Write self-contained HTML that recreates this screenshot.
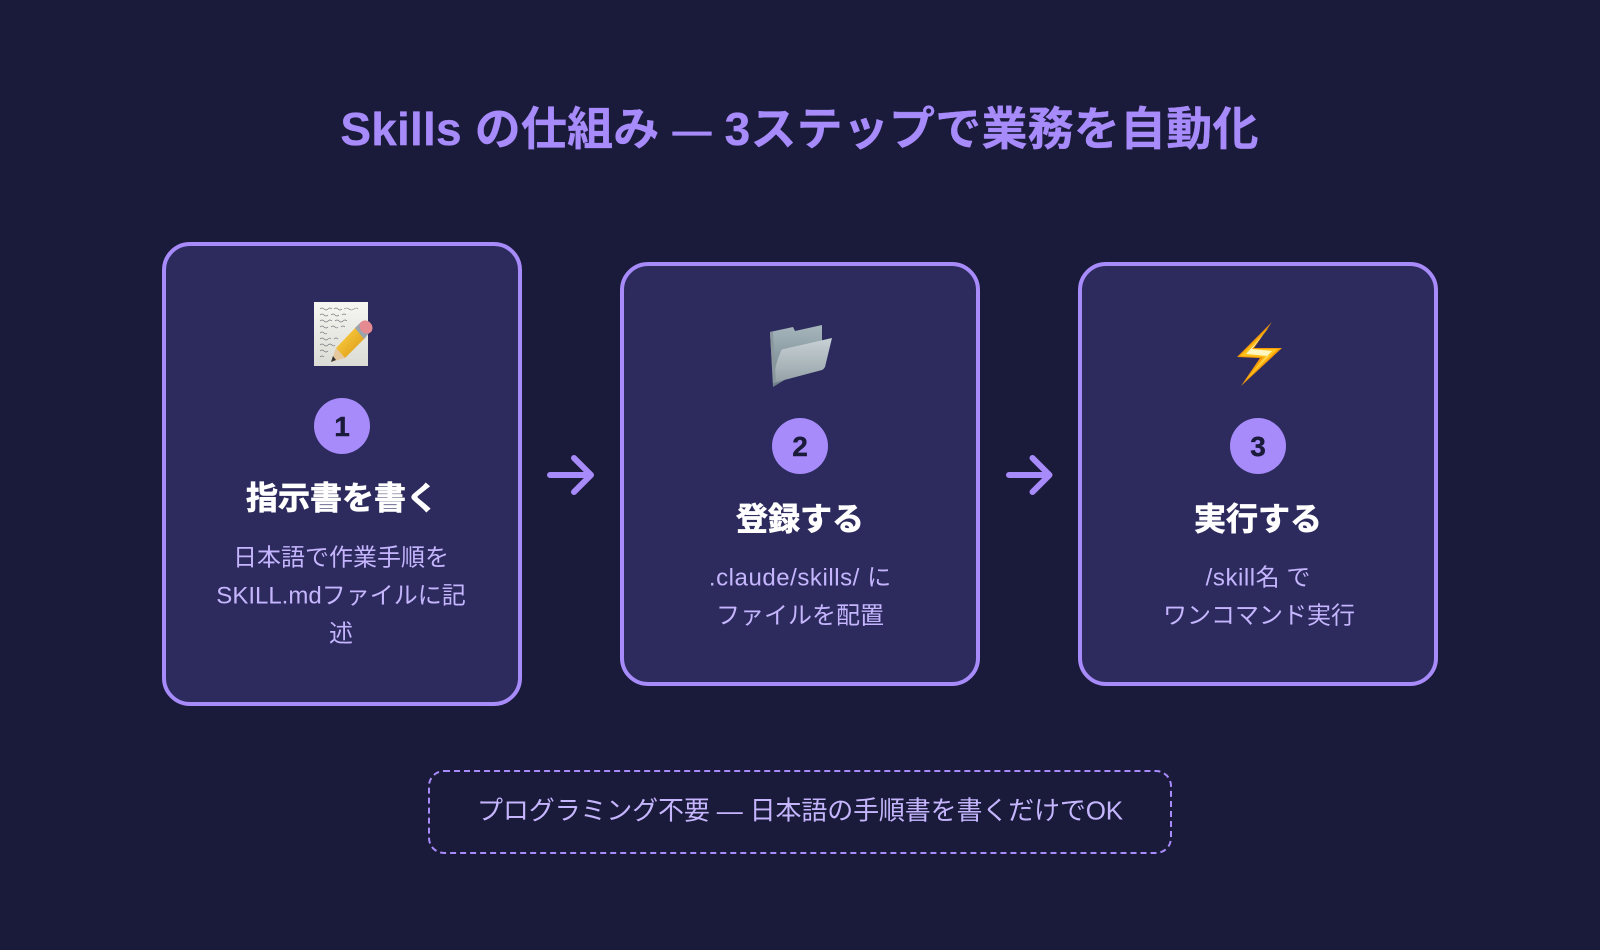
<!DOCTYPE html>
<html lang="ja"><head><meta charset="utf-8"><title>Skills</title>
<style>
*{box-sizing:border-box;margin:0;padding:0}
html,body{width:1600px;height:950px;overflow:hidden;background:#1a1a3a}
body{position:relative;font-family:"Liberation Sans","Noto Sans CJK JP",sans-serif}
.t{position:absolute;white-space:nowrap;text-align:center;transform:translate(-50%,-50%)}
.title{left:799.5px;top:126px;font-size:46px;font-weight:700;color:#a78bfa;letter-spacing:.2px;-webkit-text-stroke:.3px #a78bfa}
.title .dash{font-size:39px;vertical-align:1px}
.card{position:absolute;width:360px;background:#2d2b5e;border:4px solid #a78bfa;border-radius:28px}
.num{position:absolute;width:56px;height:56px;border-radius:50%;background:#a78bfa;color:#1a1a3a;font-size:28px;font-weight:700;line-height:57px;text-align:center;-webkit-text-stroke:.4px #1a1a3a}
.h{font-size:32px;font-weight:700;color:#fff;-webkit-text-stroke:.7px #fff}
.d{font-size:24px;color:#c4b5fd}
.d .l{letter-spacing:.55px}
.note{position:absolute;left:428px;top:770px;width:744px;height:84px;border:2px dashed #a78bfa;border-radius:16px}
.nt{left:800px;top:809px;font-size:26px;color:#c4b5fd;letter-spacing:-.15px}
svg{position:absolute;overflow:visible}
</style></head><body>
<div class="t title">Skills の仕組み <span class="dash">—</span> 3ステップで業務を自動化</div>

<div class="card" style="left:162px;top:242px;height:464px"></div>
<div class="card" style="left:620px;top:262px;height:424px"></div>
<div class="card" style="left:1078px;top:262px;height:424px"></div>

<svg style="left:0;top:0" width="1600" height="950" viewBox="0 0 1600 950">
<defs>
<linearGradient id="pg" x1="0" y1="0" x2="0" y2="1"><stop offset="0" stop-color="#f6f6f2"/><stop offset="1" stop-color="#dcdcd6"/></linearGradient>
<linearGradient id="fb" x1="0" y1="0" x2="0" y2="1"><stop offset="0" stop-color="#a6b6bc"/><stop offset="1" stop-color="#6f8088"/></linearGradient>
<linearGradient id="ff" x1="0" y1="0" x2="0" y2="1"><stop offset="0" stop-color="#c8d1d4"/><stop offset="0.6" stop-color="#aab6bb"/><stop offset="1" stop-color="#929fa5"/></linearGradient>
<linearGradient id="pc" x1="0" y1="0" x2="1" y2="1"><stop offset="0" stop-color="#ffd84a"/><stop offset="1" stop-color="#d9920f"/></linearGradient>
</defs>
<!-- paper -->
<rect x="314" y="302" width="54" height="64" fill="url(#pg)"/>
<g stroke="#4a4a50" stroke-width="0.6" fill="none" opacity=".7">
<path d="M320 309q2-2 4 0t4 0 4 0m2 0q2-2 4 0t4 0m2 0q3-2 5 0t5 0 4 0"/>
<path d="M320 315q2-2 4 0t4 0m3 0q2-2 4 0t4 0m3 0q2-2 4 0"/>
<path d="M320 321q2-2 4 0t4 0 4 0m3 0q2-2 4 0t4 0 4 0"/>
<path d="M320 327q2-2 4 0t4 0m3 0q2-2 4 0t3 0m3 0q2-2 4 0"/>
<path d="M320 333q2-2 4 0t3 0"/>
<path d="M320 339q2-2 4 0t4 0 3 0m3 0q2-2 4 0"/>
<path d="M320 345q2-2 4 0t4 0 4 0 3 0"/>
<path d="M320 351q2-2 4 0t4 0"/>
<path d="M320 357q2-2 4 0"/>
</g>
<!-- pencil -->
<polygon points="336,348 357,326 366,337 345,358" fill="url(#pc)"/>
<polygon points="336,348 345,358 331,362" fill="#e6c89e"/>
<polygon points="333,356 336,360 331,362" fill="#333"/>
<polygon points="355,328 361,322 370,332 364,339" fill="#9aa4ae"/>
<ellipse cx="366" cy="327" rx="6" ry="7" transform="rotate(-42 366 327)" fill="#e58a90"/>
<!-- folder -->
<path d="M770 332l23-5 2 4 27-6v32l-49 30z" fill="url(#fb)"/>
<path d="M781 351q1-2 3-2l48-11-7 29q-1 2-3 3l-49 13q1-16 8-32z" fill="url(#ff)"/>
<path d="M770 332l3 51 3-1-3-50z" fill="#8a979d"/>
<!-- bolt -->
<polygon points="1272,322 1237,357 1260,358 1241,386 1282,348 1254,348" fill="#f59b0a"/>
<polygon points="1269,328 1240,356 1264,357 1246,380 1278,349 1250,349" fill="#ffc21a"/>
<polygon points="1263,335 1246,354 1268,356 1255,369 1272,351 1252,349" fill="#fff6c0"/>
<!-- arrows -->
<g stroke="#a78bfa" stroke-width="6" stroke-linecap="round" stroke-linejoin="round" fill="none">
<path d="M550 475H591M574 458L591 475L574 492"/>
<path d="M1009 475H1049.500M1032.500 458L1049.500 475L1032.500 492"/>
</g>
</svg>

<div class="num" style="left:314px;top:398px">1</div>
<div class="num" style="left:772px;top:418px">2</div>
<div class="num" style="left:1230px;top:418px">3</div>

<div class="t h" style="left:342px;top:496px">指示書を書く</div>
<div class="t d" style="left:341px;top:555px">日本語で作業手順を</div>
<div class="t d" style="left:341px;top:593px">SKILL.mdファイルに記</div>
<div class="t d" style="left:341px;top:631px">述</div>

<div class="t h" style="left:800px;top:517px">登録する</div>
<div class="t d" style="left:800px;top:575px"><span class="l">.claude/skills/ </span>に</div>
<div class="t d" style="left:800px;top:613px">ファイルを配置</div>

<div class="t h" style="left:1258px;top:517px">実行する</div>
<div class="t d" style="left:1258px;top:575px"><span class="l">/skill</span>名 で</div>
<div class="t d" style="left:1259px;top:613px">ワンコマンド実行</div>

<div class="note"></div>
<div class="t nt">プログラミング不要 — 日本語の手順書を書くだけでOK</div>
</body></html>
